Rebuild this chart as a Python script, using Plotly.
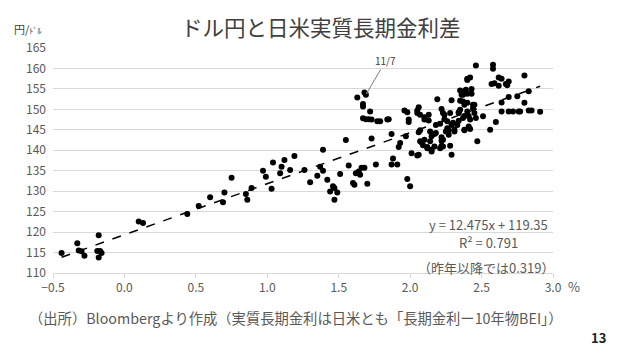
import plotly.graph_objects as go

# Japan-US real long-term rate differential (%), USD/JPY (yen per dollar)
rate_diff = [
    -0.44, -0.33, -0.32, -0.30, -0.28, -0.18, -0.19, -0.17, -0.18, -0.16,
    0.10, 0.13, 0.44, 0.52, 0.60, 0.69, 0.70, 0.75, 0.85, 0.86, 0.89, 0.97,
    0.99, 1.03, 1.04, 1.09, 1.10, 1.12, 1.16, 1.19, 1.26, 1.30, 1.35, 1.37,
    1.39, 1.39, 1.42, 1.44, 1.46, 1.47, 1.49, 1.47, 1.51, 1.55, 1.57,
    1.60, 1.61, 1.62, 1.64, 1.65, 1.66, 1.68, 1.70, 1.76, 1.73, 1.87, 1.87,
    1.88, 1.91, 1.92, 1.93, 1.97, 1.98, 2.00,
    1.63, 1.68, 1.69, 1.67, 1.67, 1.72, 1.67, 1.69, 1.71, 1.73, 1.77, 1.79,
    1.84, 1.85,
    1.96, 1.98, 1.99, 1.99, 2.05, 2.05, 2.06, 2.07, 2.10, 2.10, 2.13, 2.13,
    2.07, 2.06, 2.07, 2.08, 2.09, 2.06, 2.10, 2.12, 2.14, 2.15, 2.14, 2.15,
    2.17, 2.18, 2.19, 2.18, 2.21, 2.22, 2.23, 2.24, 2.22, 2.22, 2.23, 2.21,
    2.26, 2.25, 2.27, 2.27, 2.24, 2.26, 2.28, 2.29, 2.30, 2.31, 2.28, 2.29,
    2.31, 2.33, 2.34, 2.34, 2.37, 2.36, 2.38, 2.38, 2.35, 2.38, 2.38, 2.40,
    2.01, 2.05, 2.12, 2.15, 2.17, 2.22, 2.23,
    2.29, 2.35, 2.40, 2.45, 2.44, 2.35, 2.39, 2.43, 2.37, 2.40, 2.43, 2.42,
    2.40,
    2.46, 2.58, 2.58, 2.62, 2.64, 2.80, 2.57, 2.59, 2.62, 2.67, 2.69, 2.68,
    2.83,
    2.51, 2.56, 2.60, 2.64, 2.69, 2.75, 2.80, 2.64, 2.69, 2.72, 2.76, 2.77,
    2.83, 2.85, 2.91,
    2.40, 2.41, 2.42, 2.41, 2.42, 2.38, 2.37, 2.34, 2.46, 2.45, 2.44, 2.47,
]
usdjpy = [
    114.9, 117.3, 115.5, 115.3, 114.2, 119.2, 115.4, 115.4, 113.8, 114.9,
    122.6, 122.2, 124.4, 126.4, 128.5, 127.3, 129.7, 133.3, 129.3, 127.9, 130.8, 135.0,
    133.5, 130.6, 137.0, 134.4, 136.0, 137.6, 135.2, 138.6, 135.2, 132.2, 133.8, 136.0,
    140.1, 135.0, 132.8, 129.9, 131.2, 130.8, 129.7, 127.9, 134.2, 142.5, 136.3,
    132.0, 131.6, 134.4, 134.8, 134.0, 135.7, 135.7, 131.8, 136.5, 142.9, 144.0, 136.5,
    138.0, 136.5, 140.8, 141.8, 143.4, 133.0, 131.2,
    152.9, 154.1, 153.6, 151.3, 150.7, 149.5, 147.8, 147.6, 147.6, 147.5, 147.1, 147.1,
    147.5, 147.6,
    149.7, 149.3, 147.5, 146.9, 149.1, 149.7, 150.5, 148.7, 148.1, 147.5, 148.7, 147.3,
    144.9, 144.4, 142.2, 141.9, 141.2, 138.9, 142.6, 140.8, 144.6, 143.4, 142.2, 140.1,
    144.0, 144.2, 152.5, 146.2, 146.5, 150.1, 149.1, 148.7, 143.2, 142.3, 140.9, 140.5,
    145.4, 144.6, 144.9, 143.8, 147.6, 147.1, 149.1, 146.2, 146.7, 145.0, 141.1, 138.9,
    144.6, 146.2, 147.2, 149.1, 151.9, 153.6, 154.4, 151.1, 149.9, 148.4, 145.0, 157.2,
    139.3, 138.7, 140.5, 139.7, 140.9, 141.1, 142.6,
    152.2, 152.1, 151.6, 151.1, 151.1, 154.6, 154.8, 155.0, 153.6, 153.8, 153.8, 157.8,
    157.5,
    160.7, 160.9, 159.9, 157.8, 157.5, 158.3, 156.2, 156.4, 155.8, 156.2, 156.8, 155.9,
    154.4,
    148.3, 145.0, 146.9, 151.7, 153.0, 153.2, 151.6, 149.5, 149.5, 149.5, 149.5, 149.5,
    149.7, 149.7, 149.4,
    149.5, 148.4, 147.5, 145.8, 145.2, 144.9, 147.9, 149.3, 147.9, 149.1, 150.3, 142.2,
]

slope = 12.475
intercept = 119.35
x_ticks = [-0.5, 0.0, 0.5, 1.0, 1.5, 2.0, 2.5, 3.0]
y_ticks = [110, 115, 120, 125, 130, 135, 140, 145, 150, 155, 160, 165]
marked_date = "11/7"
marked_point = (1.69, 153.6)

trend_x = [min(rate_diff), max(rate_diff)]
trend_y = [slope * v + intercept for v in trend_x]

FONT = "Noto Sans CJK JP"
GRID = "#d9d9d9"
TXT = "#595959"

fig = go.Figure()
fig.add_trace(go.Scatter(
    x=rate_diff, y=usdjpy, mode="markers",
    marker=dict(color="black", size=6, line=dict(width=0)),
    showlegend=False, hoverinfo="x+y",
))
fig.add_trace(go.Scatter(
    x=trend_x, y=trend_y, mode="lines",
    line=dict(color="black", width=1.5, dash="dash"),
    showlegend=False, hoverinfo="skip",
))

# page body adds an 8px offset; size/margins compensate so plot lands at 53..553 x 48..273
fig.update_layout(
    width=612, height=349,
    margin=dict(l=45, r=67, t=40, b=84),
    paper_bgcolor="white", plot_bgcolor="white",
    font=dict(family=FONT, color=TXT, size=12),
    xaxis=dict(
        range=[-0.5, 3.0], tickvals=x_ticks, tickformat=".1f",
        showgrid=False, zeroline=False,
        showline=True, linecolor=GRID, linewidth=1,
        ticks="outside", ticklen=4, tickcolor=GRID,
        tickfont=dict(size=12, color=TXT),
    ),
    yaxis=dict(
        range=[110, 165], tickvals=y_ticks,
        showgrid=True, gridcolor=GRID, gridwidth=1, zeroline=False,
        showline=False, ticks="", ticklabelstandoff=6,
        tickfont=dict(size=12, color=TXT),
    ),
)


def label(text, x, y, size=12, color=TXT, **kw):
    return dict(text=text, x=x, y=y, xref="paper", yref="paper", showarrow=False,
                xanchor="center", yanchor="middle", font=dict(size=size, color=color), **kw)


ann = [
    label("ドル円と日米実質長期金利差", 0.536, 1.095, size=21.5, color="#404040"),
    label("円/<span style='font-size:8px'>ﾄﾞﾙ</span>", -0.052, 1.085, size=11, color="#404040"),
    label("%", 1.042, -0.06, size=13),
    label("y = 12.475x + 119.35", 0.87, 0.215, size=13),
    label("R² = 0.791", 0.87, 0.137, size=13),
    label("（昨年以降では0.319）", 0.866, 0.025, size=13),
    label("（出所）Bloombergより作成（実質長期金利は日米とも「長期金利ー10年物BEI」）",
          0.486, -0.199, size=14.3),
    label("<b>13</b>", 1.09, -0.288, size=13, color="#222222"),
    dict(text=marked_date, x=marked_point[0], y=marked_point[1], xref="x", yref="y",
         showarrow=True, arrowhead=2, arrowsize=0.8, arrowwidth=0.8, arrowcolor="#595959",
         ax=20, ay=-34, font=dict(size=10, color="#404040")),
]
fig.update_layout(annotations=ann)

fig.write_html("out.html")
